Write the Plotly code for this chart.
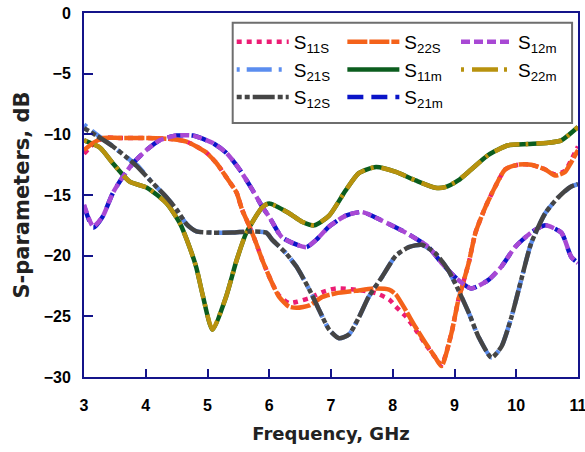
import plotly.graph_objects as go

# ---- data ----
freq_a = [3.0, 3.15, 3.31, 3.58, 4.0, 4.44, 4.66, 4.82, 4.98, 5.15, 5.3, 5.47, 5.56, 5.68, 5.79, 5.89,
          6.05, 6.16, 6.32, 6.45, 6.65, 6.86, 7.08, 7.4, 7.73, 7.94, 8.05, 8.21, 8.37, 8.53, 8.69, 8.79,
          8.95, 9.06, 9.23, 9.34, 9.5, 9.66, 9.82, 10.03, 10.24, 10.47, 10.63, 10.79, 10.89, 11.0]
s22s = [-11.3, -10.7, -10.3, -10.3, -10.3, -10.4, -10.6, -11.0, -11.5, -12.4, -13.5, -14.8, -16.2, -17.6, -19.0, -20.4,
        -22.3, -23.4, -24.2, -24.3, -24.1, -23.4, -23.1, -22.9, -22.7, -22.8, -23.2, -24.5, -25.9, -27.2, -28.4, -29.1,
        -26.4, -23.7, -20.6, -18.1, -16.0, -14.3, -12.9, -12.5, -12.5, -12.9, -13.4, -13.1, -12.3, -11.3]
s11s = [-11.6, -10.8, -10.3, -10.3, -10.3, -10.4, -10.6, -11.0, -11.5, -12.4, -13.5, -14.8, -16.2, -17.6, -19.0, -20.4,
        -22.3, -23.3, -23.9, -23.8, -23.5, -23.0, -22.7, -22.8, -23.1, -23.6, -24.2, -25.0, -26.1, -27.3, -28.4, -29.0,
        -26.4, -23.7, -20.6, -18.1, -16.0, -14.3, -12.9, -12.5, -12.5, -12.9, -13.3, -13.0, -12.1, -11.0]

freq_b = [3.0, 3.15, 3.3, 3.47, 3.63, 3.79, 4.01, 4.22, 4.5, 4.76, 5.08, 5.3, 5.52, 5.73, 5.89, 6.0,
          6.21, 6.6, 6.76, 6.97, 7.24, 7.5, 7.82, 8.21, 8.58, 8.79, 9.06, 9.27, 9.55, 9.76, 9.98, 10.24,
          10.47, 10.73, 10.89, 11.0]
s12m = [-15.8, -17.6, -16.8, -14.8, -13.5, -12.4, -11.3, -10.5, -10.1, -10.1, -10.7, -11.5, -12.9, -14.6, -16.0, -16.8,
        -18.5, -19.3, -18.7, -17.6, -16.7, -16.4, -17.1, -18.1, -19.3, -20.6, -22.0, -22.7, -22.0, -20.9, -19.3, -18.1,
        -17.5, -18.1, -20.1, -20.6]
s21m = [-15.9, -17.7, -16.8, -14.8, -13.5, -12.4, -11.3, -10.5, -10.1, -10.1, -10.7, -11.5, -12.9, -14.6, -16.0, -16.8,
        -18.5, -19.3, -18.7, -17.6, -16.7, -16.4, -17.1, -18.1, -19.3, -20.6, -22.0, -22.7, -22.0, -20.9, -19.3, -18.1,
        -17.5, -18.1, -20.1, -20.6]

freq_c = [3.0, 3.2, 3.47, 3.69, 3.85, 4.11, 4.34, 4.5, 4.66, 4.82, 5.08, 5.4, 5.68, 5.95, 6.05, 6.27,
          6.44, 6.65, 6.81, 6.97, 7.13, 7.29, 7.45, 7.61, 7.82, 8.05, 8.26, 8.47, 8.69, 8.9, 9.06, 9.23,
          9.39, 9.6, 9.76, 9.92, 10.08, 10.24, 10.47, 10.68, 10.89, 11.0]
s12s = [-9.5, -10.1, -11.0, -11.9, -12.6, -14.0, -15.2, -16.2, -17.4, -18.0, -18.1, -18.1, -18.0, -18.1, -18.7, -19.8,
        -20.9, -22.8, -24.5, -26.1, -26.8, -26.5, -25.1, -23.4, -21.8, -20.0, -19.3, -19.1, -19.8, -21.2, -22.8, -24.7,
        -26.7, -28.4, -27.5, -25.1, -22.0, -19.0, -16.5, -15.2, -14.3, -14.1]
s21s = [-9.2, -10.0, -11.0, -11.9, -12.5, -14.0, -15.2, -16.2, -17.4, -18.0, -18.1, -18.1, -18.0, -18.1, -18.7, -19.8,
        -20.9, -22.8, -24.5, -26.1, -26.8, -26.5, -25.1, -23.4, -21.8, -20.0, -19.3, -19.1, -19.8, -21.2, -22.8, -24.7,
        -26.7, -28.4, -27.5, -25.1, -22.0, -19.0, -16.5, -15.2, -14.3, -14.1]

freq_d = [3.0, 3.26, 3.47, 3.74, 4.02, 4.34, 4.55, 4.71, 4.82, 4.92, 5.08, 5.3, 5.47, 5.63, 5.89, 6.0,
          6.32, 6.53, 6.73, 6.97, 7.24, 7.45, 7.73, 8.05, 8.37, 8.69, 8.85, 9.06, 9.27, 9.55, 9.87, 10.19,
          10.52, 10.73, 11.0]
s11m = [-10.5, -11.1, -12.4, -13.9, -14.4, -15.7, -17.3, -19.3, -21.0, -23.2, -26.1, -23.4, -20.4, -18.1, -16.0, -15.7,
        -16.5, -17.2, -17.5, -16.7, -14.6, -13.2, -12.7, -13.1, -13.8, -14.4, -14.35, -13.8, -12.9, -11.7, -10.9, -10.8,
        -10.7, -10.5, -9.4]
s22m = [-10.5, -11.1, -12.4, -13.9, -14.4, -15.7, -17.3, -19.3, -21.0, -23.2, -26.1, -23.4, -20.4, -18.1, -16.0, -15.7,
        -16.5, -17.2, -17.5, -16.7, -14.6, -13.2, -12.7, -13.1, -13.8, -14.4, -14.35, -13.8, -12.9, -11.7, -10.9, -10.8,
        -10.7, -10.5, -9.4]

x_ticks = [3, 4, 5, 6, 7, 8, 9, 10, 11]
y_ticks = [0, -5, -10, -15, -20, -25, -30]

# ---- series: (name, x, y, color, dash, legend column, rank) in draw order ----
series = [
    ("S<sub>11S</sub>", freq_a, s11s, "#EC1C74", "5px,5px", "legend", 1),
    ("S<sub>21S</sub>", freq_c, s21s, "#5B8DEF", "3px,7px,25px,7px", "legend", 2),
    ("S<sub>11m</sub>", freq_d, s11m, "#0B5D1E", "solid", "legend2", 2),
    ("S<sub>21m</sub>", freq_b, s21m, "#0A14C8", "16px,8px", "legend2", 3),
    ("S<sub>22S</sub>", freq_a, s22s, "#F4621A", "20px,2px", "legend2", 1),
    ("S<sub>12m</sub>", freq_b, s12m, "#A848D4", "9px,4px", "legend3", 1),
    ("S<sub>22m</sub>", freq_d, s22m, "#B8920E", "3px,8px,26px,6px", "legend3", 2),
    ("S<sub>12S</sub>", freq_c, s12s, "#454545", "5px,3px,5px,3px,22px,3px", "legend", 3),
]

fig = go.Figure()
for name, xs, ys, color, dash, leg, rank in series:
    fig.add_trace(go.Scatter(
        x=xs, y=ys, mode="lines", name=name, legend=leg, legendrank=rank,
        line=dict(color=color, width=4.5, dash=dash, shape="spline", smoothing=0.6),
    ))

# legend frame (one box round the three legend columns)
fig.add_shape(type="rect", xref="paper", yref="paper", x0=0.301, x1=0.988, y0=0.698, y1=0.973,
              fillcolor="white", line=dict(color="#6E6E6E", width=2), layer="above")

legend_common = dict(
    orientation="v", y=0.973, xanchor="left", yanchor="top",
    itemwidth=52, bgcolor="rgba(0,0,0,0)", borderwidth=0,
    font=dict(family="Liberation Sans", size=19, color="black"),
    traceorder="normal",
)

axis_color = "#14148A"
fig.update_layout(
    width=585, height=452,
    margin=dict(l=84, r=7, t=13, b=75),
    paper_bgcolor="white", plot_bgcolor="white",
    showlegend=True,
    legend=dict(x=0.299, **legend_common),
    legend2=dict(x=0.523, **legend_common),
    legend3=dict(x=0.753, **legend_common),
    xaxis=dict(
        range=[3, 11], tickvals=x_ticks, showgrid=False, zeroline=False, automargin=False,
        showline=True, linecolor=axis_color, linewidth=2, mirror=True,
        ticks="inside", ticklen=8, tickwidth=2, tickcolor=axis_color,
        ticklabelstandoff=13, ticklabeloverflow="allow",
        tickfont=dict(family="Liberation Sans", size=16, color="black", weight="bold"),
        title=dict(text="Frequency, GHz", standoff=14,
                   font=dict(family="DejaVu Sans", size=18, color="#222222", weight="bold")),
    ),
    yaxis=dict(
        range=[-30, 0], tickvals=y_ticks, showgrid=False, zeroline=False, automargin=False,
        showline=True, linecolor=axis_color, linewidth=2, mirror=True,
        ticks="inside", ticklen=9, tickwidth=2, tickcolor=axis_color,
        ticklabelstandoff=8,
        tickfont=dict(family="Liberation Sans", size=16, color="black", weight="bold"),
        title=dict(text="S-parameters, dB", standoff=8,
                   font=dict(family="DejaVu Sans", size=21, color="#222222", weight="bold")),
    ),
)

fig.write_html("out.html")
